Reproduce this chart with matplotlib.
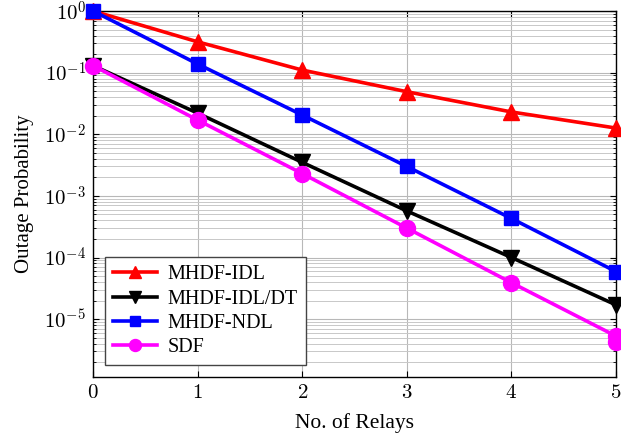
import numpy as np
import matplotlib
matplotlib.use('Agg')
import matplotlib.pyplot as plt
from matplotlib.ticker import LogLocator, NullFormatter

plt.rcParams['font.family'] = 'Liberation Serif'
plt.rcParams['mathtext.fontset'] = 'cm'

relays = [0, 1, 2, 3, 4, 5]
idl = [1.0, 0.316, 0.11, 0.049, 0.023, 0.0126]
idl_dt = [0.13, 0.022, 0.0035, 5.7e-4, 1.0e-4, 1.7e-5]
ndl = [1.0, 0.138, 0.0205, 0.003, 4.3e-4, 5.9e-5]
sdf_x = [0, 1, 2, 3, 4, 5, 5]
sdf = [0.13, 0.017, 0.0023, 3.0e-4, 3.9e-5, 5.3e-6, 4.3e-6]

fig = plt.figure(figsize=(6.21, 4.33), dpi=100)
ax = fig.add_axes([0.1498, 0.1293, 0.8422, 0.8453])

lw = 2.6
ax.plot(relays, idl, color='red', lw=lw, marker='^', ms=12, label='MHDF-IDL', clip_on=False, zorder=5)
ax.plot(relays, idl_dt, color='black', lw=lw, marker='v', ms=12, label='MHDF-IDL/DT', clip_on=False, zorder=5)
ax.plot(relays, ndl, color='blue', lw=lw, marker='s', ms=10.5, label='MHDF-NDL', clip_on=False, zorder=5)
ax.plot(sdf_x, sdf, color='magenta', lw=lw, marker='o', ms=11.5, label='SDF', clip_on=False, zorder=5)

ax.set_yscale('log')
ax.set_xlim(0, 5)
ax.set_ylim(1.15e-6, 1)
ax.set_xticks(relays)
ax.set_yticks([1e0, 1e-1, 1e-2, 1e-3, 1e-4, 1e-5])
ax.yaxis.set_minor_locator(LogLocator(base=10, subs=np.arange(2, 10), numticks=20))
ax.yaxis.set_minor_formatter(NullFormatter())
ax.set_xticklabels(['$%d$' % r for r in relays])
ax.set_yticklabels(['$10^{0}$', '$10^{-1}$', '$10^{-2}$', '$10^{-3}$', '$10^{-4}$', '$10^{-5}$'])

ax.tick_params(which='both', direction='in', top=True, right=True, labelsize=15)
ax.tick_params(which='major', length=4, pad=5)
ax.tick_params(which='minor', length=2.5)
ax.grid(True, which='major', color='#b8b8b8', lw=0.8)
ax.grid(True, which='minor', axis='y', color='#c8c8c8', lw=0.7)
for s in ax.spines.values():
    s.set_linewidth(1.0)

ax.set_xlabel('No. of Relays', fontsize=15.5, labelpad=7)
ax.set_ylabel('Outage Probability', fontsize=15, labelpad=7)

leg = ax.legend(loc='lower left', fontsize=14.5, frameon=True, fancybox=False,
                edgecolor='#444444', framealpha=1, markerscale=0.75,
                handlelength=2.2, handletextpad=0.5, borderaxespad=0.6,
                labelspacing=0.25, borderpad=0.4)
leg.get_frame().set_linewidth(1.0)

fig.savefig('out.png', dpi=100)
